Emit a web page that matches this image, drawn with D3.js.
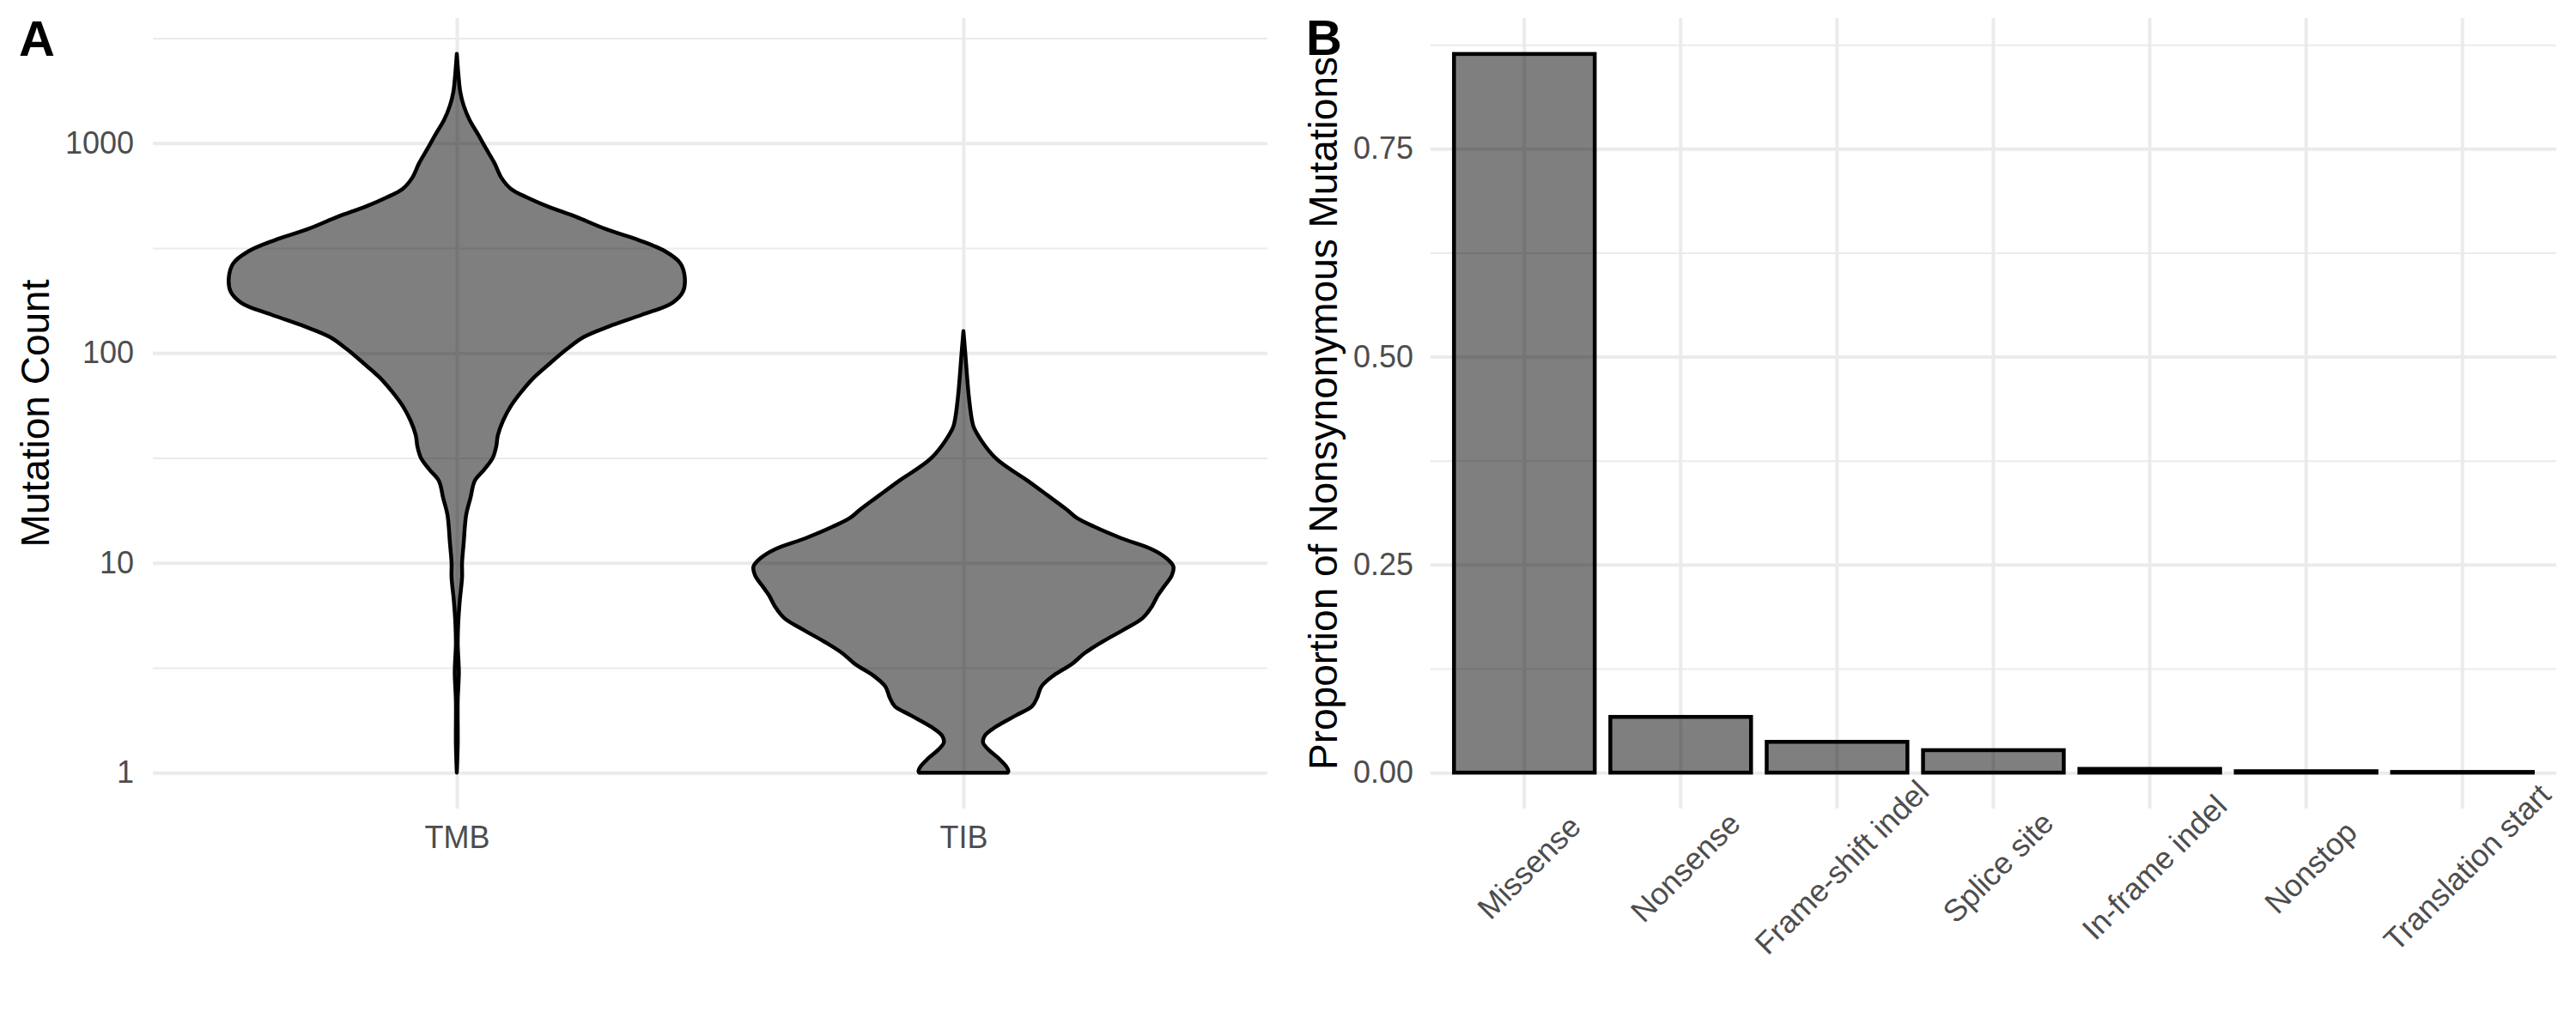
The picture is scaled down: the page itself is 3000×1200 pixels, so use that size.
<!DOCTYPE html>
<html>
<head>
<meta charset="utf-8">
<script src="https://cdnjs.cloudflare.com/ajax/libs/d3/7.8.5/d3.min.js"></script>
<style>
    body { margin: 0; background: #fff; }
    text { font-family: "Liberation Sans", Arial, Helvetica, sans-serif; }
</style>
</head>
<body>
<script>
// panel A: violins as (count, relative half-width)
var groups = ['TMB', 'TIB'];

var tmbCount = [1, 1.36, 2.2, 3.0, 4.1, 5.1, 6.6, 8.5, 10, 12.4, 16.9, 20.4, 24.6, 27.8, 31.7, 35.9,
    40.5, 47.6, 55.8, 65, 76.3, 89.5, 104, 119, 134, 152, 173, 196, 229, 267, 305, 344, 389, 444,
    501, 551, 606, 685, 804, 943, 1097, 1288, 1511, 1757, 2062, 2660];
var tmbDensity = [0, 0.004, 0.004, 0.009, 0.004, 0.006, 0.013, 0.023, 0.023, 0.030, 0.041, 0.060,
    0.079, 0.120, 0.158, 0.173, 0.180, 0.203, 0.237, 0.282, 0.338, 0.410, 0.481, 0.556, 0.669, 0.812,
    0.944, 0.992, 1.0, 0.981, 0.914, 0.801, 0.654, 0.526, 0.395, 0.308, 0.237, 0.195, 0.165, 0.128,
    0.094, 0.056, 0.030, 0.015, 0.008, 0];

var tibCount = [1, 1.02, 1.07, 1.17, 1.29, 1.39, 1.50, 1.65, 1.88, 2.07, 2.27, 2.57, 2.9, 3.3, 3.7,
    4.2, 4.8, 5.45, 6.2, 7.0, 7.7, 8.7, 9.6, 10.5, 11.6, 13.1, 14.9, 16.4, 18.0, 21.0, 24.6, 31.7,
    43.3, 47.5, 63, 100, 127];
var tibDensity = [0.195, 0.197, 0.188, 0.154, 0.109, 0.086, 0.094, 0.141, 0.233, 0.301, 0.323, 0.342,
    0.395, 0.477, 0.530, 0.609, 0.703, 0.786, 0.827, 0.853, 0.880, 0.914, 0.921, 0.891, 0.827, 0.692,
    0.571, 0.496, 0.451, 0.368, 0.282, 0.139, 0.049, 0.038, 0.023, 0.008, 0];

var countTicks = [1, 10, 100, 1000];

// panel B: proportion of nonsynonymous mutations
var mutTypes = ['Missense', 'Nonsense', 'Frame-shift indel', 'Splice site', 'In-frame indel',
    'Nonstop', 'Translation start'];
var mutProportion = [0.864, 0.067, 0.037, 0.027, 0.0045, 0.0017, 0.0008];
var propTicks = [0, 0.25, 0.5, 0.75];

var W = 3000, H = 1200;
var panelTop = 21, panelBottom = 942;
var gridCol = '#EBEBEB';
var textCol = '#4D4D4D';
var majorW = 4, minorW = 2;
var outlineW = 4.5;

var svg = d3.select('body').append('svg')
    .attr('width', W)
    .attr('height', H)
    .style('background', '#fff');

// minor grid lines sit half way between major ones (log or linear space)
function midpoints(ticks, log) {
    var out = [];
    for (var i = 0; i < ticks.length; i++) {
        var a = ticks[i];
        var b = i < ticks.length - 1 ? ticks[i + 1] : (log ? a * (a / ticks[i - 1]) : a + (a - ticks[i - 1]));
        out.push(log ? Math.sqrt(a * b) : (a + b) / 2);
    }
    if (log) out.unshift(Math.sqrt(ticks[0] * ticks[0] / (ticks[1] / ticks[0])));
    else out.unshift(ticks[0] - (ticks[1] - ticks[0]) / 2);
    return out;
}

function gridLines(g, axis, w) {
    g.call(axis);
    g.select('.domain').remove();
    g.selectAll('line').attr('stroke', gridCol).attr('stroke-width', w);
    g.selectAll('text').remove();
}

// ---------- panel A ----------
var aLeft = 178, aRight = 1476;

var xA = d3.scalePoint().domain(groups).range([aLeft, aRight]).padding(0.6);

var lo = Math.log10(d3.min(tmbCount.concat(tibCount)));
var hi = Math.log10(d3.max(tmbCount.concat(tibCount)));
var padA = (hi - lo) * 0.05;
var yA = d3.scaleLog()
    .domain([Math.pow(10, lo - padA), Math.pow(10, hi + padA)])
    .range([panelBottom, panelTop]);

var minorA = midpoints(countTicks, true).filter(function (v) {
    return yA(v) >= panelTop && yA(v) <= panelBottom;
});

var gA = svg.append('g');

gridLines(gA.append('g').attr('transform', 'translate(' + aLeft + ',0)'),
    d3.axisLeft(yA).tickValues(minorA).tickSize(-(aRight - aLeft)), minorW);
gridLines(gA.append('g').attr('transform', 'translate(' + aLeft + ',0)'),
    d3.axisLeft(yA).tickValues(countTicks).tickSize(-(aRight - aLeft)), majorW);
gridLines(gA.append('g').attr('transform', 'translate(0,' + panelBottom + ')'),
    d3.axisBottom(xA).tickSize(-(panelBottom - panelTop)), majorW);

var halfW = d3.scaleLinear().domain([0, 1]).range([0, xA.step() * 0.45]);

var violins = [
    {group: 'TMB', count: tmbCount, dens: tmbDensity},
    {group: 'TIB', count: tibCount, dens: tibDensity}
];

violins.forEach(function (v) {
    var cx = xA(v.group);
    var pts = v.count.map(function (c, i) { return [c, v.dens[i]]; });
    var area = d3.area()
        .curve(d3.curveCatmullRom.alpha(0.5))
        .y(function (d) { return yA(d[0]); })
        .x0(function (d) { return cx - halfW(d[1]); })
        .x1(function (d) { return cx + halfW(d[1]); });
    gA.append('path')
        .datum(pts)
        .attr('d', area)
        .attr('fill', '#000')
        .attr('fill-opacity', 0.5)
        .attr('stroke', '#000')
        .attr('stroke-width', outlineW)
        .attr('stroke-linejoin', 'round')
        .attr('stroke-linecap', 'round');
});

// axis labels
var yAxisA = gA.append('g')
    .attr('transform', 'translate(' + aLeft + ',0)')
    .call(d3.axisLeft(yA).tickValues(countTicks).tickSize(0).tickPadding(22).tickFormat(d3.format('d')));
yAxisA.select('.domain').remove();
yAxisA.selectAll('text').attr('fill', textCol).style('font-size', '36px');

var xAxisA = gA.append('g')
    .attr('transform', 'translate(0,' + panelBottom + ')')
    .call(d3.axisBottom(xA).tickSize(0).tickPadding(20));
xAxisA.select('.domain').remove();
xAxisA.selectAll('text').attr('fill', textCol).style('font-size', '36px');

gA.append('text')
    .attr('transform', 'translate(57,' + (panelTop + panelBottom) / 2 + ') rotate(-90)')
    .attr('text-anchor', 'middle')
    .style('font-size', '46px')
    .attr('fill', '#000')
    .text('Mutation Count');

gA.append('text')
    .attr('x', 22).attr('y', 65)
    .style('font-size', '58px')
    .style('font-weight', 'bold')
    .text('A');

// ---------- panel B ----------
var bLeft = 1666, bRight = 2977;

var xB = d3.scaleBand().domain(mutTypes).range([bLeft, bRight])
    .paddingInner(0.1).paddingOuter(0.15);

var maxP = d3.max(mutProportion);
var yB = d3.scaleLinear()
    .domain([-maxP * 0.05, maxP * 1.05])
    .range([panelBottom, panelTop]);

var minorB = midpoints(propTicks, false).filter(function (v) {
    return yB(v) >= panelTop && yB(v) <= panelBottom;
});

var gB = svg.append('g');

gridLines(gB.append('g').attr('transform', 'translate(' + bLeft + ',0)'),
    d3.axisLeft(yB).tickValues(minorB).tickSize(-(bRight - bLeft)), minorW);
gridLines(gB.append('g').attr('transform', 'translate(' + bLeft + ',0)'),
    d3.axisLeft(yB).tickValues(propTicks).tickSize(-(bRight - bLeft)), majorW);
// band axis already puts ticks at the band centres
gridLines(gB.append('g').attr('transform', 'translate(0,' + panelBottom + ')'),
    d3.axisBottom(xB).tickSize(-(panelBottom - panelTop)).offset(0), majorW);

gB.selectAll('rect.bar')
    .data(mutTypes)
    .enter().append('rect')
    .attr('class', 'bar')
    .attr('x', function (d) { return xB(d); })
    .attr('width', xB.bandwidth())
    .attr('y', function (d, i) { return yB(mutProportion[i]); })
    .attr('height', function (d, i) { return yB(0) - yB(mutProportion[i]); })
    .attr('fill', '#000')
    .attr('fill-opacity', 0.5)
    .attr('stroke', '#000')
    .attr('stroke-width', outlineW);

var yAxisB = gB.append('g')
    .attr('transform', 'translate(' + bLeft + ',0)')
    .call(d3.axisLeft(yB).tickValues(propTicks).tickSize(0).tickPadding(20).tickFormat(d3.format('.2f')));
yAxisB.select('.domain').remove();
yAxisB.selectAll('text').attr('fill', textCol).style('font-size', '36px');

var xAxisB = gB.append('g')
    .attr('transform', 'translate(0,' + panelBottom + ')')
    .call(d3.axisBottom(xB).tickSize(0).offset(0));
xAxisB.select('.domain').remove();
xAxisB.selectAll('text')
    .attr('fill', textCol)
    .style('font-size', '36px')
    .attr('y', 0)
    .attr('dy', '0.36em')
    .attr('text-anchor', 'middle')
    .attr('transform', 'translate(5,68) rotate(-45)');

gB.append('text')
    .attr('transform', 'translate(1557,' + (panelTop + panelBottom) / 2 + ') rotate(-90)')
    .attr('text-anchor', 'middle')
    .style('font-size', '46px')
    .attr('fill', '#000')
    .text('Proportion of Nonsynonymous Mutations');

gB.append('text')
    .attr('x', 1521).attr('y', 64)
    .style('font-size', '58px')
    .style('font-weight', 'bold')
    .text('B');
</script>
</body>
</html>
